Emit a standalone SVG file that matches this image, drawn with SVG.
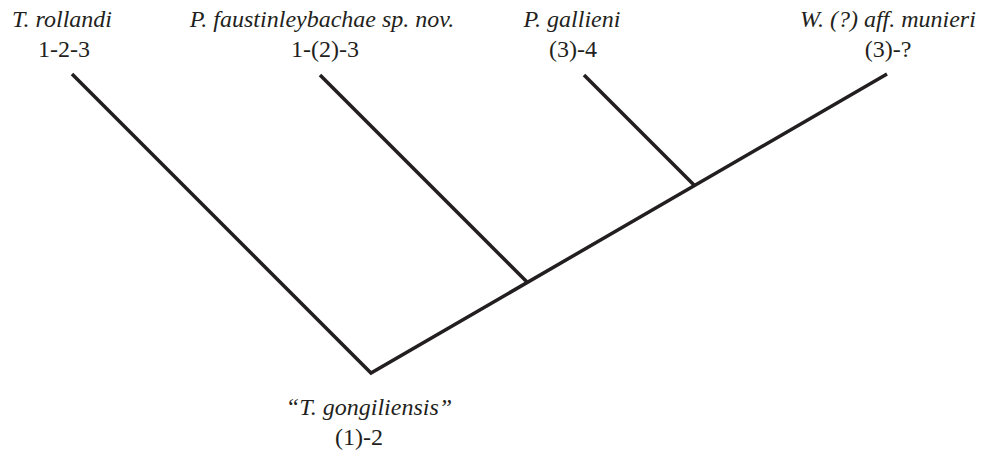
<svg xmlns="http://www.w3.org/2000/svg" width="986" height="452" viewBox="0 0 986 452">
<style>
text{font-family:'Liberation Serif','Times New Roman',Times,'DejaVu Serif',serif;font-size:24px;fill:#231f20;text-anchor:middle}
.it{font-style:italic}
.br{fill:none;stroke:#231f20;stroke-width:3.5;stroke-linecap:butt;stroke-linejoin:miter}
</style>
<rect width="986" height="452" fill="#ffffff"/>
<g id="connectors">
<polyline class="br" points="72,74 371,373 887,74"/>
<line class="br" x1="320" y1="75" x2="528" y2="283"/>
<line class="br" x1="584" y1="75" x2="695" y2="186"/>
</g>
<g id="node-rollandi" font-family="Liberation Serif, serif">
<text class="it" x="62" y="27">T. rollandi</text>
<text x="64" y="57">1-2-3</text>
</g>
<g id="node-faustinleybachae" font-family="Liberation Serif, serif">
<text class="it" x="322" y="27">P. faustinleybachae sp. nov.</text>
<text x="325" y="57">1-(2)-3</text>
</g>
<g id="node-gallieni" font-family="Liberation Serif, serif">
<text class="it" x="572" y="27">P. gallieni</text>
<text x="573" y="57">(3)-4</text>
</g>
<g id="node-munieri" font-family="Liberation Serif, serif">
<text class="it" x="888" y="27">W. (?) aff. munieri</text>
<text x="888" y="57">(3)-?</text>
</g>
<g id="node-gongiliensis" font-family="Liberation Serif, serif">
<text class="it" x="369" y="415">“T. gongiliensis”</text>
<text x="359" y="445">(1)-2</text>
</g>
</svg>
